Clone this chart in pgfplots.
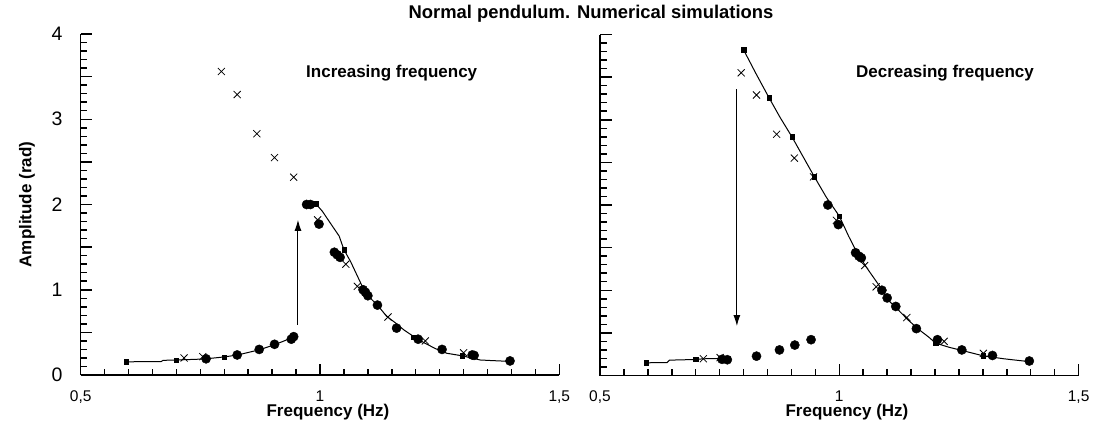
\documentclass[border=0pt]{standalone}
\usepackage{pgfplots}
\pgfplotsset{compat=1.18}
\usepackage{fontspec}
\setmainfont{Liberation Sans}
\usetikzlibrary{arrows.meta}

\pgfplotsset{
 panel/.style={
  scale only axis, width=478.6pt, height=341pt,
  xmin=0.5, xmax=1.5, ymin=0, ymax=4,
  axis x line*=bottom, axis y line*=left,
  axis line style={line width=1.4pt,-},
  xtick={0.5,1,1.5}, xticklabels={{0,5},{1},{1,5}},
  ytick={0,0.5,1,1.5,2,2.5,3,3.5,4},
  minor xtick={0.55,0.6,0.65,0.7,0.75,0.8,0.85,0.9,0.95,1.05,1.1,1.15,1.2,1.25,1.3,1.35,1.4,1.45},
  minor ytick={0.1,0.2,0.3,0.4,0.6,0.7,0.8,0.9,1.1,1.2,1.3,1.4,1.6,1.7,1.8,1.9,2.1,2.2,2.3,2.4,2.6,2.7,2.8,2.9,3.1,3.2,3.3,3.4,3.6,3.7,3.8,3.9},
  xminorticks=true, yminorticks=true,
  tick align=inside,
  major tick length=11.5pt,
  minor tick length=6.5pt,
  every tick/.style={black, line width=1.5pt},
  every minor tick/.style={black, line width=1.5pt},
  xticklabel style={font=\fontsize{15.5}{16}\selectfont, anchor=base, inner sep=0pt, yshift=-26pt},
  yticklabel style={font=\fontsize{19.5}{20}\selectfont, anchor=east, inner sep=0pt, xshift=-18pt},
  clip=false,
 },
 curve/.style={black, line width=1pt, mark=none},
 sq/.style={only marks, black, mark=square*, mark size=2.2pt},
 cross/.style={only marks, black, mark=x, mark size=5pt, line width=0.8pt},
 dot/.style={only marks, black, mark=*, mark size=4.6pt},
 arr/.style={black, line width=1pt, mark=none, -{Latex[length=11pt,width=7pt]}},
}

\begin{document}
\begin{tikzpicture}
\useasboundingbox (0,0) rectangle (1093pt,429pt);

% ---------------- left panel ----------------
\begin{axis}[panel, at={(80.7pt,54pt)}, anchor=south west, yticklabels={0,,1,,2,,3,,4}]
\addplot[curve] coordinates {(0.595,0.155) (0.668,0.157) (0.672,0.172) (0.70,0.176) (0.745,0.185) (0.762,0.19) (0.80,0.212) (0.828,0.235) (0.873,0.295) (0.905,0.355) (0.943,0.44)};
\addplot[curve] coordinates {(0.975,2.0) (0.991,2.01) (1.005,1.92) (1.026,1.745) (1.040,1.63) (1.050,1.47) (1.064,1.33) (1.079,1.15) (1.090,1.02) (1.104,0.91) (1.123,0.80) (1.139,0.69) (1.158,0.61) (1.175,0.53) (1.196,0.45) (1.217,0.38) (1.241,0.31) (1.265,0.255) (1.297,0.225) (1.335,0.176) (1.356,0.17) (1.395,0.16)};
\addplot[sq] coordinates {(0.595,0.155) (0.70,0.176) (0.80,0.212) (0.991,2.01) (1.050,1.47) (1.196,0.44) (1.297,0.225)};
\addplot[arr] coordinates {(0.954,0.59) (0.954,1.82)};
\addplot[cross] coordinates {(0.716,0.2) (0.755,0.215) (0.794,3.56) (0.827,3.29) (0.868,2.83) (0.905,2.55) (0.945,2.32) (0.995,1.82) (1.054,1.30) (1.078,1.04) (1.142,0.68) (1.22,0.40) (1.30,0.26)};
\addplot[dot] coordinates {(0.762,0.19) (0.827,0.235) (0.873,0.30) (0.905,0.36) (0.940,0.42) (0.945,0.45) (0.972,2.0) (0.980,2.0) (0.998,1.77) (1.030,1.44) (1.036,1.41) (1.042,1.38) (1.090,1.0) (1.095,0.97) (1.100,0.93) (1.120,0.82) (1.160,0.55) (1.205,0.42) (1.255,0.30) (1.318,0.235) (1.322,0.23) (1.397,0.165)};
\end{axis}

% ---------------- right panel ----------------
\begin{axis}[panel, at={(600pt,53.5pt)}, anchor=south west, yticklabels={}]
\addplot[curve] coordinates {(0.597,0.149) (0.64,0.152) (0.645,0.18) (0.70,0.188) (0.716,0.196) (0.75,0.2) (0.766,0.19)};
\addplot[curve] coordinates {(0.800,3.82) (0.826,3.54) (0.853,3.26) (0.876,3.03) (0.901,2.80) (0.923,2.58) (0.948,2.33) (0.973,2.09) (1.0,1.87) (1.019,1.64) (1.037,1.44) (1.059,1.25) (1.084,1.05) (1.101,0.89) (1.123,0.77) (1.144,0.65) (1.166,0.54) (1.187,0.45) (1.201,0.38) (1.23,0.33) (1.259,0.29) (1.301,0.23) (1.344,0.196) (1.401,0.16)};
\addplot[sq] coordinates {(0.597,0.149) (0.70,0.188) (0.800,3.82) (0.853,3.26) (0.901,2.80) (0.948,2.33) (1.0,1.87) (1.201,0.38) (1.301,0.23)};
\addplot[arr] coordinates {(0.786,3.36) (0.786,0.58)};
\addplot[cross] coordinates {(0.716,0.196) (0.751,0.21) (0.795,3.55) (0.827,3.29) (0.869,2.83) (0.906,2.55) (0.946,2.33) (0.994,1.82) (1.053,1.29) (1.077,1.04) (1.141,0.68) (1.219,0.40) (1.301,0.26)};
\addplot[dot] coordinates {(0.755,0.19) (0.766,0.185) (0.827,0.227) (0.875,0.30) (0.907,0.357) (0.941,0.42) (0.976,2.0) (0.998,1.77) (1.034,1.44) (1.041,1.40) (1.046,1.38) (1.089,1.0) (1.100,0.91) (1.118,0.81) (1.161,0.55) (1.205,0.42) (1.256,0.30) (1.320,0.235) (1.397,0.17)};
\end{axis}

% ---------------- texts ----------------
\node[font=\bfseries\fontsize{18.4}{20}\selectfont, anchor=base, inner sep=0pt] at (591pt,410pt) {Normal pendulum. Numerical simulations};
\node[font=\bfseries\fontsize{17}{19}\selectfont, anchor=base west, inner sep=0pt] at (306pt,351.5pt) {Increasing frequency};
\node[font=\bfseries\fontsize{17}{19}\selectfont, anchor=base west, inner sep=0pt] at (856pt,351pt) {Decreasing frequency};
\node[font=\bfseries\fontsize{17}{19}\selectfont, anchor=base, inner sep=0pt] at (328pt,12.5pt) {Frequency (Hz)};
\node[font=\bfseries\fontsize{17}{19}\selectfont, anchor=base, inner sep=0pt] at (847pt,12.5pt) {Frequency (Hz)};
\node[font=\bfseries\fontsize{17}{19}\selectfont, anchor=base, inner sep=0pt, rotate=90] at (31.5pt,224.5pt) {Amplitude (rad)};
\end{tikzpicture}
\end{document}
